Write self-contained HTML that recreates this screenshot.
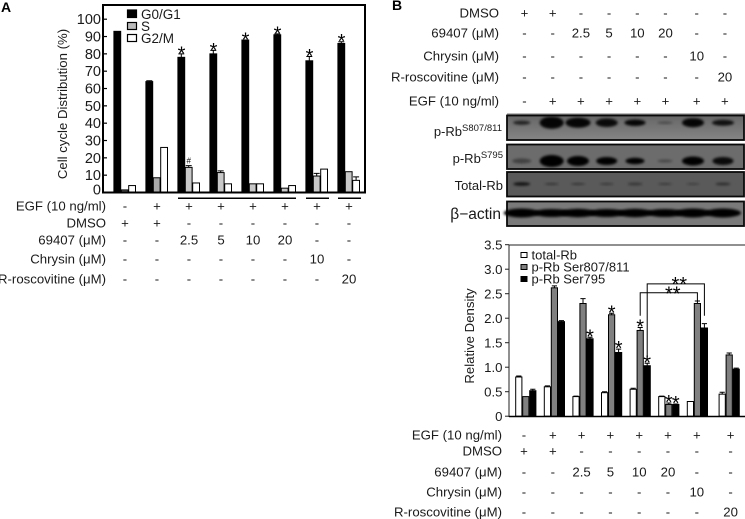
<!DOCTYPE html>
<html lang="en">
<head>
<meta charset="utf-8">
<title>Cell cycle distribution and Rb phosphorylation</title>
<style>
html,body{margin:0;padding:0;background:#fff;width:745px;height:519px;overflow:hidden}
svg{display:block;font-family:"Liberation Sans",Arial,sans-serif;fill:#1a1a1a;filter:blur(0.35px)}
</style>
</head>
<body>
<svg id="fig" xmlns="http://www.w3.org/2000/svg" width="745" height="519" viewBox="0 0 745 519">
<defs>
<filter id="blotBlur" x="-30%" y="-60%" width="160%" height="220%"><feGaussianBlur stdDeviation="1.3"/></filter>
<linearGradient id="blotShade" x1="0" y1="0" x2="0" y2="1"><stop offset="0" stop-color="#666"/><stop offset="1" stop-color="#858585"/></linearGradient>
</defs>
<text x="1" y="12" font-size="14" font-weight="bold" fill="#000">A</text>
<text x="392" y="10" font-size="14" font-weight="bold" fill="#000">B</text>
<text transform="translate(67,104) rotate(-90)" text-anchor="middle" font-size="13.2">Cell cycle Distribution (%)</text>
<text transform="translate(474,336) rotate(-90)" text-anchor="middle" font-size="13.2">Relative Density</text>
<rect x="127.500" y="10" width="9" height="7.500" fill="#000" stroke="#000" stroke-width="1.2"/>
<rect x="127.500" y="22.500" width="9" height="7" fill="#bbb" stroke="#000" stroke-width="1.2"/>
<rect x="127.500" y="34.500" width="9" height="7" fill="#fff" stroke="#000" stroke-width="1.2"/>
<text x="141" y="19" font-size="13.500">G0/G1</text>
<text x="141" y="31" font-size="13.500">S</text>
<text x="141" y="43" font-size="13.500">G2/M</text>
<rect x="521" y="252.500" width="6" height="5" fill="#fff" stroke="#000" stroke-width="1"/>
<rect x="521" y="264.500" width="6" height="5" fill="#808080" stroke="#000" stroke-width="1"/>
<rect x="521" y="276.500" width="6" height="5" fill="#000" stroke="#000" stroke-width="1"/>
<text x="531.500" y="259.500" font-size="13">total-Rb</text>
<text x="531.500" y="271.500" font-size="13">p-Rb Ser807/811</text>
<text x="531.500" y="283.500" font-size="13">p-Rb Ser795</text>
<text x="502" y="136" text-anchor="end" font-size="13">p-Rb<tspan font-size="9.500" dy="-5">S807/811</tspan></text>
<text x="503" y="163" text-anchor="end" font-size="13">p-Rb<tspan font-size="9.500" dy="-5">S795</tspan></text>
<text x="503" y="190" text-anchor="end" font-size="13">Total-Rb</text>
<text x="501" y="219" text-anchor="end" font-size="15.500">&#946;&#8722;actin</text>
<rect x="178" y="197.500" width="118" height="1.500" fill="#000"/>
<rect x="306" y="197.500" width="23" height="1.500" fill="#000"/>
<rect x="338" y="197.500" width="23" height="1.500" fill="#000"/>
</svg>
<script>
// Panel A chart data
const aCategories = ['control', 'EGF', '69407-2.5', '69407-5', '69407-10', '69407-20', 'chrysin-10', 'roscovitine-20'];
const aG0G1 = [93, 64, 78, 80, 88, 91, 76, 86];
const aS = [1.5, 8.5, 14.5, 11.5, 5, 2.5, 9.5, 12];
const aG2M = [4, 26, 5.5, 5, 5, 4, 13.5, 7];
const aG0G1Err = [0, 0.5, 2, 2, 0, 0.5, 2.5, 1];
const aSErr = [0, 0, 1, 1, 0, 0, 1.5, 0];
const aG2MErr = [0, 0, 0, 0, 0, 0, 0, 2];
const aTicks = [0, 10, 20, 30, 40, 50, 60, 70, 80, 90, 100];
const aStarGroups = [2, 3, 4, 5, 6, 7];
// Panel B chart data
const bCategories = ['control', 'EGF', '69407-2.5', '69407-5', '69407-10', '69407-20', 'chrysin-10', 'roscovitine-20'];
const bTotal = [0.8, 0.6, 0.4, 0.48, 0.55, 0.4, 0.3, 0.45];
const bSer807 = [0.4, 2.62, 2.3, 2.07, 1.75, 0.24, 2.3, 1.25];
const bSer795 = [0.52, 1.93, 1.58, 1.3, 1.03, 0.24, 1.8, 0.96];
const bTotalErr = [0.02, 0.02, 0.01, 0.02, 0.02, 0.01, 0, 0.04];
const bSer807Err = [0, 0.04, 0.1, 0.03, 0.06, 0.03, 0.05, 0.04];
const bSer795Err = [0.03, 0.02, 0.03, 0.07, 0.05, 0.01, 0.09, 0.02];
const bTicks = ['0', '0.5', '1.0', '1.5', '2.0', '2.5', '3.0', '3.5'];
const bStars807 = [3, 4, 5];
const bStars795 = [2, 3, 4, 5];
// Treatment tables
const rowEGF = ['-', '+', '+', '+', '+', '+', '+', '+'];
const rowDMSO = ['+', '+', '-', '-', '-', '-', '-', '-'];
const row69407 = ['-', '-', '2.5', '5', '10', '20', '-', '-'];
const rowChrysin = ['-', '-', '-', '-', '-', '-', '10', '-'];
const rowRosc = ['-', '-', '-', '-', '-', '-', '-', '20'];
const labelEGF = 'EGF (10 ng/ml)';
const labelDMSO = 'DMSO';
const label69407 = '69407 (\u03bcM)';
const labelChrysin = 'Chrysin (\u03bcM)';
const labelRosc = 'R-roscovitine (\u03bcM)';
// Blot band intensities (densitometry-like readings per lane)
const blot807Strength = [0.7, 0.95, 0.95, 0.9, 0.95, 0.35, 0.95, 0.85];
const blot795Strength = [0.4, 1, 1, 1, 1, 0.35, 1, 0.9];
const blotTotalStrength = [0.8, 0.4, 0.4, 0.35, 0.4, 0.33, 0.3, 0.5];
const blotActinStrength = [1, 1, 1, 1, 1, 1, 1, 1];

const svg = document.getElementById('fig');
const NS = 'http://www.w3.org/2000/svg';
function mk(tag, attrs, text) {
  const el = document.createElementNS(NS, tag);
  for (const k in attrs) el.setAttribute(k, attrs[k]);
  if (text !== undefined) el.textContent = text;
  svg.appendChild(el);
  return el;
}
// Axis functions
const yA = v => 192.5 - v * 1.733;
const xA = (g, s) => 113.5 + g * 32 + s * 7.4;
const yB = v => 416.2 - v * 49;
const xB = (g, s) => 515.3 + g * 28.6 + (g === 7 ? 3.2 : 0) + s * 7;
const colA = g => 125 + g * 32;
const colBTop = g => 524.5 + g * 28.2 + (g > 5 ? 3 : 0);
const colBBot = g => 524 + g * 28.8 + (g === 7 ? 5 : 0);

// Blots
function blot(name, top, cy, strengths, widthScale, bandH, bg) {
  const back = mk('rect', {x: 507, y: top, width: 237, height: 24.5, fill: bg, stroke: '#0a0a0a', 'stroke-width': 1.8});
  
  
  strengths.forEach((s, i) => {
    const lane = [521.7, 551.7, 578, 606.7, 635, 665, 693, 723][i];
    const b = mk('ellipse', {cx: lane, cy: cy, rx: widthScale[i] / 2, ry: bandH[i] / 2, fill: '#000', opacity: s, filter: 'url(#blotBlur)'});
    
    
  });
}
blot('ser807', 115.5, 122.7, blot807Strength, [17, 24, 25, 22, 21, 15, 22, 22], [4, 12, 10, 8.5, 6.5, 2.5, 9, 6], 'url(#blotShade)');
blot('ser795', 144.5, 161, blot795Strength, [19, 24, 22, 21, 19, 15, 22, 21], [5, 12, 10, 8, 6.5, 3, 9, 8], '#6c6c6c');
blot('total-rb', 172, 184, blotTotalStrength, [17, 14, 14, 14, 15, 14, 13, 15], [3.5, 2.2, 2.2, 2.2, 2.8, 2.2, 2, 2.8], '#5a5a5a');
blot('actin', 201.5, 213, blotActinStrength, [36, 36, 36, 36, 36, 36, 36, 36], [9, 8, 8.5, 8, 8.5, 8, 9, 9], '#7a7a7a');
const rule = mk('line', {x1: 507, y1: 114, x2: 745, y2: 114, stroke: '#777', 'stroke-width': 1});



// Panel A bars
function barA(vals, errs, s, fillFn, name) {
  vals.forEach((v, g) => {
    const x = xA(g, s);
    const r = mk('rect', {x: x + 0.4, y: yA(v), width: 6.8, height: yA(0) - yA(v), fill: fillFn(g), stroke: '#000', 'stroke-width': 1});
    
    
    if (errs[g] > 0) {
      const cx = x + 3.8;
      const e = mk('path', {d: 'M' + cx + ' ' + yA(v) + 'V' + yA(v + errs[g]) + 'M' + (cx - 3) + ' ' + yA(v + errs[g]) + 'H' + (cx + 3), stroke: '#000', 'stroke-width': 1, fill: 'none'});
      
      
    }
  });
}
barA(aG0G1, aG0G1Err, 0, () => '#000', 'g0g1');
barA(aS, aSErr, 1, g => (g === 0 ? '#555' : g === 1 ? '#aaa' : '#c8c8c8'), 's');
barA(aG2M, aG2MErr, 2, () => '#fff', 'g2m');

const frameA = mk('rect', {x: 103, y: 5, width: 262, height: 187.5, fill: 'none', stroke: '#000', 'stroke-width': 2});


aTicks.forEach(t => {
  const lb = mk('text', {x: 101, y: yA(t) + (t === 0 ? 2 : 5), 'text-anchor': 'end', 'font-size': 14.5}, String(t));
  
  
  if (t > 0) {
    const tk = mk('line', {x1: 103, y1: yA(t), x2: 107, y2: yA(t), stroke: '#000', 'stroke-width': 1.2});
    
    
  }
});
aStarGroups.forEach(g => {
  const top = aG0G1[g] + aG0G1Err[g];
  const st = mk('text', {x: xA(g, 0) + 4, y: yA(top) + 6.5, 'text-anchor': 'middle', 'font-size': 20, fill: '#000'}, '*');
  
  
});
const hash = mk('text', {x: xA(2, 1) + 3.8, y: yA(aS[2] + aSErr[2]) - 2, 'text-anchor': 'middle', 'font-size': 8, fill: '#000'}, '#');



// Panel B bars
function barB(vals, errs, s, fill, name) {
  vals.forEach((v, g) => {
    const x = xB(g, s);
    const r = mk('rect', {x: x + 0.4, y: yB(v), width: 6.2, height: yB(0) - yB(v), fill: fill, stroke: '#000', 'stroke-width': 1});
    
    
    if (errs[g] > 0) {
      const cx = x + 3.5;
      const e = mk('path', {d: 'M' + cx + ' ' + yB(v) + 'V' + yB(v + errs[g]) + 'M' + (cx - 2.6) + ' ' + yB(v + errs[g]) + 'H' + (cx + 2.6), stroke: '#000', 'stroke-width': 1, fill: 'none'});
      
      
    }
  });
}
barB(bTotal, bTotalErr, 0, '#fff', 'total-rb');
barB(bSer807, bSer807Err, 1, '#808080', 'ser807');
barB(bSer795, bSer795Err, 2, '#000', 'ser795');

const frameB = mk('path', {d: 'M745 245H509V416.5H745', fill: 'none', stroke: '#222', 'stroke-width': 1});


const baseB = mk('line', {x1: 509, y1: 416.5, x2: 745, y2: 416.5, stroke: '#000', 'stroke-width': 1.6});


bTicks.forEach(t => {
  const v = parseFloat(t);
  const lb = mk('text', {x: 502.5, y: yB(v) + 5, 'text-anchor': 'end', 'font-size': 13.2}, t);
  
  
  const tk = mk('line', {x1: 505, y1: yB(v), x2: 509, y2: yB(v), stroke: '#222', 'stroke-width': 1});
  
  
});
bStars807.forEach(g => {
  const st = mk('text', {x: xB(g, 1) + 3.5, y: yB(bSer807[g] + bSer807Err[g]) + 6, 'text-anchor': 'middle', 'font-size': 20, fill: '#000'}, '*');
  
  
});
bStars795.forEach(g => {
  const st = mk('text', {x: xB(g, 2) + 3.5, y: yB(bSer795[g] + bSer795Err[g]) + 6, 'text-anchor': 'middle', 'font-size': 20, fill: '#000'}, '*');
  
  
});
const b1 = mk('path', {d: 'M' + (xB(4, 1) + 3.5) + ' ' + yB(2.05) + 'V' + yB(2.52) + 'H' + (xB(6, 1) + 3.5) + 'V' + yB(2.35), fill: 'none', stroke: '#000', 'stroke-width': 1});


const b2 = mk('path', {d: 'M' + (xB(4, 2) + 3.5) + ' ' + yB(1.21) + 'V' + yB(2.7) + 'H' + (xB(6, 2) + 3.5) + 'V' + yB(2.05), fill: 'none', stroke: '#000', 'stroke-width': 1});


const s1 = mk('text', {x: (xB(4, 1) + xB(6, 1)) / 2 + 7.5, y: yB(2.52) + 8, 'text-anchor': 'middle', 'font-size': 20, fill: '#000'}, '**');


const s2 = mk('text', {x: (xB(4, 2) + xB(6, 2)) / 2 + 7, y: yB(2.7) + 7, 'text-anchor': 'middle', 'font-size': 20, fill: '#000'}, '**');



// Treatment tables
function row(table, label, vals, rightX, cy, colFn) {
  const lb = mk('text', {x: rightX, y: cy + 4.5, 'text-anchor': 'end', 'font-size': 13.2}, label);
  
  
  vals.forEach((v, g) => {
    const c = mk('text', {x: colFn(g), y: cy + 4.5, 'text-anchor': 'middle', 'font-size': 13.2}, v);
    
    
  });
}
row('a-table', labelEGF, rowEGF, 106, 206, colA);
row('a-table', labelDMSO, rowDMSO, 106, 223, colA);
row('a-table', label69407, row69407, 106, 240, colA);
row('a-table', labelChrysin, rowChrysin, 106, 259, colA);
row('a-table', labelRosc, rowRosc, 106, 279, colA);
row('b-top-table', labelDMSO, rowDMSO, 499, 13, colBTop);
row('b-top-table', label69407, row69407, 499, 33, colBTop);
row('b-top-table', labelChrysin, rowChrysin, 499, 56, colBTop);
row('b-top-table', labelRosc, rowRosc, 499, 77, colBTop);
row('b-top-table', labelEGF, rowEGF, 499, 101, colBTop);
row('b-bottom-table', labelEGF, rowEGF, 502, 435, colBBot);
row('b-bottom-table', labelDMSO, rowDMSO, 502, 451, colBBot);
row('b-bottom-table', label69407, row69407, 502, 472, colBBot);
row('b-bottom-table', labelChrysin, rowChrysin, 502, 492, colBBot);
row('b-bottom-table', labelRosc, rowRosc, 502, 512, colBBot);
</script>
</body>
</html>
